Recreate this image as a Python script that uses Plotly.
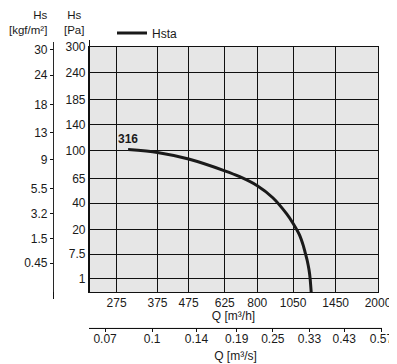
import numpy as np
import plotly.graph_objects as go

# ---- data ----
q_m3h = [300, 375, 475, 625, 700, 800, 900, 1000, 1050, 1100, 1135, 1150, 1170, 1185, 1195, 1205]
hs_pa = [102, 98, 89, 74, 67, 57, 45, 31, 24, 17, 11, 8.2, 5, 2.6, 1, 0]
series_name = "Hsta"
curve_label = "316"

pa_ticks = [1, 7.5, 20, 40, 65, 100, 140, 185, 240, 300]
pa_labels = ["1", "7.5", "20", "40", "65", "100", "140", "185", "240", "300"]
kgf_ticks = [0.45, 1.5, 3.2, 5.5, 9, 13, 18, 24, 30]
kgf_labels = ["0.45", "1.5", "3.2", "5.5", "9", "13", "18", "24", "30"]
qh_ticks = [275, 375, 475, 625, 800, 1050, 1450, 2000]
qh_labels = ["275", "375", "475", "625", "800", "1050", "1450", "2000"]
qs_ticks = [0.07, 0.1, 0.14, 0.19, 0.25, 0.33, 0.43, 0.57]
qs_labels = ["0.07", "0.1", "0.14", "0.19", "0.25", "0.33", "0.43", "0.57"]

G = 9.80665  # Pa per kgf/m²

# ---- geometry, given in page px; the page body adds an 8 px margin ----
OFF = 8
WIN_W, WIN_H = 397, 364
W, H = WIN_W - OFF, WIN_H - OFF
L, R, T, B = 30, 395, 12, 328        # paper box (page px)
PW, PH = R - L, B - T
def px(x):
    return (x - L) / PW
def py(y):
    return (B - y) / PH

plot_left, plot_right, plot_top, plot_bottom = 89, 378, 47, 292
x2_right = 382
kgf_x, kgf_top, kgf_bottom = 53, 42, 299
pa_line_top = 40

xr = [np.log10(223), np.log10(2000)]
pxdec = (plot_right - plot_left) / (xr[1] - xr[0])
x2r0 = xr[0] - np.log10(3600)
x2r = [x2r0, x2r0 + (x2_right - plot_left) / pxdec]

yr = [0.07, np.sqrt(300)]
pxu = (plot_bottom - plot_top) / (yr[1] - yr[0])        # px per sqrt-unit
yr3 = [yr[0] - (kgf_bottom - plot_bottom) / pxu, yr[1] + (plot_top - kgf_top) / pxu]
yr4 = [yr[0], yr[1] + (plot_top - pa_line_top) / pxu]

FONT = "Liberation Sans, Arial, sans-serif"
TXT = "#1a1a1a"
LINE = "#111111"

fig = go.Figure()

fig.add_trace(go.Scatter(
    x=q_m3h, y=np.sqrt(hs_pa), mode="lines", name=series_name,
    line=dict(color="#1a1a1a", width=3, shape="spline", smoothing=0.8),
    xaxis="x", yaxis="y", showlegend=True, hoverinfo="x+y",
))
# helper traces so the secondary axes exist (invisible)
fig.add_trace(go.Scatter(
    x=[q / 3600 for q in q_m3h], y=[0] * len(q_m3h), mode="lines",
    line=dict(width=0), opacity=0, hoverinfo="skip", showlegend=False,
    xaxis="x2", yaxis="y2",
))
fig.add_trace(go.Scatter(
    x=[0, 1], y=[yr[0], yr[1]], mode="lines",
    line=dict(width=0), opacity=0, hoverinfo="skip", showlegend=False,
    xaxis="x3", yaxis="y3",
))
fig.add_trace(go.Scatter(
    x=[0, 1], y=[yr[0], yr[1]], mode="lines",
    line=dict(width=0), opacity=0, hoverinfo="skip", showlegend=False,
    xaxis="x3", yaxis="y4",
))

tiny = 0.0003
fig.update_layout(
    template="none",
    width=W, height=H,
    margin=dict(l=L - OFF, r=WIN_W - R, t=T - OFF, b=WIN_H - B, pad=0,
                autoexpand=False),
    paper_bgcolor="white",
    plot_bgcolor="#e6e6e6",
    font=dict(family=FONT, size=12, color=TXT),
    showlegend=True,
    legend=dict(orientation="h", x=px(112), y=py(33), xanchor="left",
                yanchor="middle", bgcolor="rgba(0,0,0,0)", borderwidth=0,
                font=dict(size=12, color=TXT), itemwidth=30),
    xaxis=dict(
        type="log", range=xr, domain=[px(plot_left), px(plot_right)],
        anchor="y", tickvals=qh_ticks, ticktext=qh_labels, automargin=False,
        showgrid=True, gridcolor=LINE, gridwidth=1.2,
        showline=True, linecolor=LINE, linewidth=1.2, mirror=True,
        ticks="", zeroline=False, tickfont=dict(size=12, color=TXT),
        ticklabelstandoff=-1,
        title=dict(text="Q [m³/h]", standoff=3, font=dict(size=12, color=TXT)),
    ),
    yaxis=dict(
        range=yr, domain=[py(plot_bottom), py(plot_top)], anchor="x",
        tickvals=list(np.sqrt(pa_ticks)), ticktext=pa_labels, automargin=False,
        showgrid=True, gridcolor=LINE, gridwidth=1.2,
        showline=True, linecolor=LINE, linewidth=1.2, mirror=True,
        ticks="", zeroline=False, tickfont=dict(size=12, color=TXT),
    ),
    xaxis2=dict(
        type="log", range=list(x2r), domain=[px(plot_left), px(x2_right)],
        anchor="y2", tickvals=qs_ticks, ticktext=qs_labels, automargin=False,
        showgrid=False, showline=True, linecolor=LINE, linewidth=1.2,
        ticks="outside", ticklen=3, tickcolor=LINE, zeroline=False,
        tickfont=dict(size=12, color=TXT), ticklabelstandoff=-4,
        title=dict(text="Q [m³/s]", standoff=7, font=dict(size=12, color=TXT)),
    ),
    yaxis2=dict(domain=[0, 0.002], visible=False, anchor="x2", range=[0, 1]),
    # tiny invisible x axis that hosts the kgf axis and the Pa line extension
    xaxis3=dict(domain=[px(kgf_x), px(kgf_x) + tiny], visible=False,
                anchor="y3", range=[0, 1]),
    yaxis3=dict(
        anchor="free", position=px(kgf_x), side="left",
        domain=[py(kgf_bottom), py(kgf_top)], range=yr3, automargin=False,
        tickvals=[np.sqrt(k * G) for k in kgf_ticks], ticktext=kgf_labels,
        showgrid=False, zeroline=False,
        showline=True, linecolor=LINE, linewidth=1.2,
        ticks="outside", ticklen=3, tickcolor=LINE,
        tickfont=dict(size=12, color=TXT),
    ),
    yaxis4=dict(
        anchor="free", position=px(plot_left), side="left",
        domain=[py(plot_bottom), py(pa_line_top)], range=yr4, automargin=False,
        showticklabels=False, ticks="", showgrid=False, zeroline=False,
        showline=True, linecolor=LINE, linewidth=1.2,
    ),
)

fig.add_annotation(
    x=np.log10(q_m3h[0]), y=np.sqrt(hs_pa[0]), xref="x", yref="y",
    text="<b>" + curve_label + "</b>", showarrow=False,
    xanchor="center", yanchor="bottom", yshift=2,
    font=dict(size=12, color=TXT),
)
fig.add_annotation(
    x=px(49), y=py(8), xref="paper", yref="paper",
    text="Hs<br>[kgf/m²]", showarrow=False, align="right", borderpad=0,
    xanchor="right", yanchor="top", font=dict(size=11.5, color=TXT),
)
fig.add_annotation(
    x=px(74), y=py(8), xref="paper", yref="paper",
    text="Hs<br>[Pa]", showarrow=False, align="center", borderpad=0,
    xanchor="center", yanchor="top", font=dict(size=11.5, color=TXT),
)

fig.write_html("out.html")
